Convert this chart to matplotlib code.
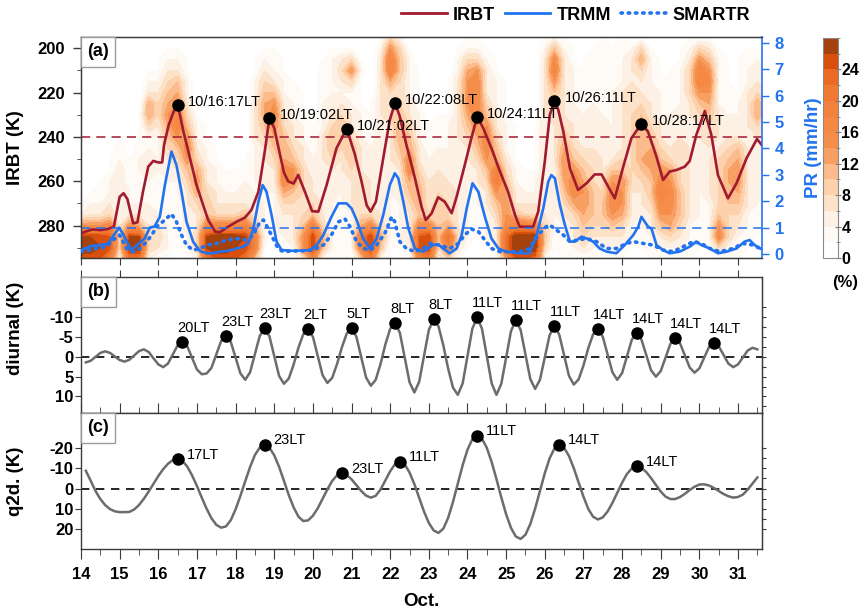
import numpy as np
import matplotlib
matplotlib.use("Agg")
import matplotlib.pyplot as plt
from matplotlib.lines import Line2D
from matplotlib.offsetbox import AnchoredText
from matplotlib.ticker import MultipleLocator

plt.rcParams['font.family'] = ['Liberation Sans', 'DejaVu Sans']
plt.rcParams['axes.unicode_minus'] = False

# ---------------- panel (a): area-mean IRBT (K) ----------------
irbt_day = [14.0, 14.15, 14.3, 14.5, 14.7, 14.85, 15.0, 15.1, 15.2, 15.35, 15.46, 15.6,
            15.74, 15.87, 16.0, 16.1, 16.15, 16.27, 16.4, 16.5, 16.56, 16.65, 16.82, 16.99,
            17.16, 17.29, 17.47, 17.59, 17.77, 18.03, 18.24, 18.41, 18.59, 18.76, 18.875,
            19.0, 19.1, 19.25, 19.36, 19.5, 19.62, 19.8, 19.98, 20.14, 20.355, 20.61, 20.875,
            21.09, 21.26, 21.39, 21.49, 21.63, 21.82, 21.99, 22.125, 22.25, 22.42, 22.64,
            22.81, 22.92, 23.07, 23.24, 23.41, 23.59, 23.72, 23.93, 24.1, 24.25, 24.41,
            24.62, 24.84, 25.05, 25.23, 25.35, 25.7, 25.83, 26.0, 26.13, 26.25, 26.35, 26.48,
            26.65, 26.86, 27.08, 27.29, 27.47, 27.64, 27.81, 28.03, 28.24, 28.5, 28.67,
            28.89, 29.06, 29.23, 29.41, 29.62, 29.75, 29.92, 30.14, 30.31, 30.48, 30.74,
            30.96, 31.22, 31.49, 31.65]
irbt_k = [283.5, 282.5, 281.7, 282.0, 281.5, 280.5, 267.0, 265.4, 268.0, 279.0, 278.5, 265.0,
          253.4, 250.8, 251.5, 251.5, 243.5, 234.5, 228.5, 225.7, 230.0, 237.6, 249.6, 261.7,
          270.7, 277.4, 282.7, 283.0, 280.9, 278.2, 276.4, 272.9, 264.7, 245.9, 231.3,
          236.0, 244.0, 256.0, 260.0, 261.0, 257.1, 265.0, 273.5, 273.7, 261.7, 245.1, 236.2,
          248.1, 260.2, 270.7, 273.7, 269.2, 249.6, 232.3, 224.7, 230.8, 243.6, 258.6,
          271.4, 277.5, 274.5, 267.2, 269.2, 274.4, 266.9, 252.6, 240.6, 230.8, 236.1,
          245.1, 255.6, 264.7, 275.2, 280.5, 280.5, 273.7, 251.1, 230.0, 223.8, 227.8, 237.6,
          254.1, 263.9, 260.9, 256.9, 256.9, 262.4, 267.7, 253.4, 240.6, 234.0, 237.6,
          248.9, 259.4, 255.6, 254.9, 253.4, 250.8, 239.1, 228.3, 239.1, 257.2, 267.7,
          260.9, 249.6, 240.9, 244.4]

# rain rate (mm/hr)
trmm_day = [14.0, 14.25, 14.5, 14.7, 14.85, 14.99, 15.1, 15.3, 15.45, 15.65, 15.78, 15.9,
            16.04, 16.17, 16.34, 16.47, 16.6, 16.73, 16.9, 17.08, 17.25, 17.42, 17.6, 17.8,
            18.03, 18.2, 18.33, 18.46, 18.59, 18.7, 18.8, 18.93, 19.06, 19.19, 19.5, 19.92,
            20.1, 20.27, 20.48, 20.66, 20.87, 21.0, 21.13, 21.3, 21.48, 21.65, 21.82, 21.99,
            22.12, 22.21, 22.34, 22.47, 22.64, 22.85, 22.98, 23.11, 23.24, 23.37, 23.54,
            23.72, 23.85, 23.98, 24.13, 24.28, 24.45, 24.62, 24.8, 25.0, 25.35, 25.6, 25.79,
            25.96, 26.09, 26.17, 26.26, 26.39, 26.52, 26.65, 26.78, 26.95, 27.08, 27.25,
            27.42, 27.6, 27.85, 28.07, 28.29, 28.42, 28.5, 28.67, 28.76, 28.89, 29.06, 29.23,
            29.49, 29.75, 29.92, 30.05, 30.27, 30.48, 30.7, 30.96, 31.17, 31.3, 31.43, 31.65]
trmm_pr = [0.15, 0.3, 0.34, 0.4, 0.72, 1.0, 0.72, 0.15, 0.34, 0.59, 1.0, 1.04,
           1.41, 2.61, 3.88, 3.37, 2.36, 1.22, 0.47, 0.11, 0.03, 0.03, 0.09, 0.12,
           0.21, 0.28, 0.4, 0.97, 1.98, 2.61, 2.36, 1.48, 0.47, 0.15, 0.12, 0.15,
           0.34, 0.72, 1.41, 1.92, 1.92, 1.73, 1.29, 0.59, 0.21, 0.59, 1.48, 2.61,
           3.06, 2.87, 1.98, 0.97, 0.21, 0.09, 0.21, 0.34, 0.37, 0.21, 0.03,
           0.21, 0.72, 1.73, 2.68, 2.36, 1.41, 0.59, 0.21, 0.09, 0.03, 0.03, 0.72,
           1.73, 2.74, 2.99, 2.87, 1.86, 1.1, 0.47, 0.47, 0.66, 0.59, 0.47,
           0.21, 0.09, 0.03, 0.34, 0.72, 1.04, 1.41, 1.04, 0.97, 0.34, 0.15, 0.03,
           0.09, 0.28, 0.47, 0.34, 0.21, 0.03, 0.09, 0.21, 0.47, 0.53, 0.34, 0.15]

smartr_day = [14.0, 14.4, 14.66, 14.83, 15.0, 15.18, 15.35, 15.52, 15.7, 15.83, 15.96, 16.17,
              16.34, 16.47, 16.6, 16.73, 16.9, 17.08, 17.25, 17.51, 17.77, 18.03, 18.29, 18.46,
              18.63, 18.72, 18.84, 18.97, 19.1, 19.23, 19.5, 19.665, 20.01, 20.27, 20.48,
              20.66, 20.83, 20.96, 21.13, 21.3, 21.48, 21.65, 21.86, 22.04, 22.12, 22.25,
              22.42, 22.64, 22.85, 23.03, 23.28, 23.54, 23.76, 23.93, 24.1, 24.28, 24.45,
              24.62, 24.84, 25.35, 25.6, 25.83, 26.04, 26.13, 26.3, 26.48, 26.65, 26.86,
              27.08, 27.34, 27.6, 27.85, 28.11, 28.29, 28.55, 28.8, 29.06, 29.32, 29.58,
              29.84, 30.05, 30.27, 30.53, 30.87, 31.13, 31.39, 31.65]
smartr_pr = [0.09, 0.21, 0.28, 0.53, 0.72, 0.21, 0.09, 0.21, 0.47, 0.72, 1.04, 1.29,
             1.52, 1.22, 0.72, 0.34, 0.15, 0.21, 0.34, 0.4, 0.53, 0.59, 0.53, 0.72,
             1.22, 1.29, 0.97, 0.59, 0.21, 0.09, 0.12, 0.11, 0.15, 0.34, 0.72,
             1.22, 1.33, 1.04, 0.47, 0.21, 0.15, 0.34, 0.78, 1.41, 1.22, 0.47,
             0.21, 0.09, 0.21, 0.4, 0.34, 0.21, 0.4, 0.72, 0.95, 0.85, 0.53,
             0.21, 0.09, 0.09, 0.21, 0.72, 1.04, 1.1, 0.91, 0.72, 0.47, 0.53,
             0.59, 0.47, 0.21, 0.21, 0.4, 0.47, 0.4, 0.34, 0.15, 0.09, 0.28,
             0.47, 0.4, 0.21, 0.09, 0.21, 0.4, 0.34, 0.15]

peak_day = [16.5, 18.875, 20.875, 22.125, 24.25, 26.25, 28.5]
peak_label = ["10/16:17LT", "10/19:02LT", "10/21:02LT", "10/22:08LT",
              "10/24:11LT", "10/26:11LT", "10/28:17LT"]

# IRBT frequency (%) per 5-K bin, one string per 6-h column, top (195 K) to bottom (295 K);
# each hex digit n stands for 2n %
pct_day_start = 14.0
pct_day_step = 0.25
pct_tb = list(range(195, 300, 5))
pct_cols = [
    "000000000000000127dec", "000000000000001237dec", "000000000000012237ddc", "000000000001122348cc9",
    "000000111122333323442", "000000000001112237dea", "000000011122222236dea", "001123664223322233442",
    "001123443222222223431", "012345676543322222221", "012356789754322111100", "001122345787543333221",
    "000000112234676433442", "000000001122334558dda", "000000000011223348eec", "000000000001122348eec",
    "000000000001122348edc", "000000000001223359dda", "001122333322222335995", "012345665433332222211",
    "012235787654332222110", "001122334566886433221", "001112223345775433321", "000001112233444445773",
    "000000001112233459dd8", "011222222333333334652", "012222334554333222221", "013432345543322222221",
    "014742233455433322221", "001211122233344446a94", "000000111122233348dd9", "123333333333333334652",
    "479964443333322222211", "245544456654333222211", "012222334568865433321", "000111122233456658cc8",
    "000000001112233348dda", "000001112223344555542", "000011112223334446b94", "012233333333333333431",
    "124677765433322222211", "124788887654332221110", "012333457887543322211", "0011222334569a7543321",
    "000011112223456778bb6", "000000001111223359eec", "000000000011122349eec", "000000001111122348eeb",
    "123333333333333334542", "258975443333222222111", "123333334567765432221", "011222233345788643321",
    "001112222334567765431", "012222233334445554321", "122222223333344554321", "011122222333578875321",
    "122223333334577764321", "023334444444443332211", "146433456666543322211", "012223334567655433221",
    "001112223345789875321", "011122223334678876421", "011222233344445554321", "123444333333333332221",
    "147997543333322222211", "135787654433333222211", "012222233334444457841", "001112223345666544421",
    "001111223356776543221", "012223333333333322211", "012334664333333222110", "011223443222222221110",
]
pct_levels = list(range(0, 30, 2))
pct_colors = ["#ffffff", "#fefaf5", "#fdf0e4", "#fde2ca", "#fcd1ac", "#fbbb8a", "#f8a064",
              "#f68e4b", "#f58843", "#f3823d", "#f07a33", "#ec6b24", "#d9500e", "#a5410c"]

# ---------------- panels (b), (c): 3-hourly series from 14.125 ----------------
series_start = 14.125
series_step = 0.125
diurnal_k = [1.4, 1.0, 0.0, -1.0, -1.4, -1.0, -0.1,
             0.8, 1.2, 0.75, -0.35, -1.45, -1.9, -1.25, 0.35,
             1.9, 2.6, 1.7, -0.6, -2.9, -3.85, -2.65, 0.3,
             3.2, 4.4, 4.2, 2.8, -0.6, -4.0, -5.4, -3.8,
             0.2, 4.2, 5.8, 3.9, -0.7, -5.3, -7.2, -5.2,
             -0.2, 4.8, 6.8, 5.5, 2.0, -2.3, -5.7, -7.05,
             -5.1, -0.2, 4.6, 6.6, 5.3, 1.8, -2.4, -5.9,
             -7.2, -5.1, 0.05, 5.2, 7.3, 5.8, 1.8, -3.15,
             -7.1, -8.65, -6.1, 0.2, 6.4, 9.0, 6.3, -0.25,
             -6.8, -9.5, -7.7, -2.9, 3.0, 7.8, 9.6, 6.7,
             -0.2, -7.1, -10.0, -7.1, -0.2, 6.7, 9.6, 6.8,
             0.15, -6.5, -9.3, -6.8, -0.6, 5.6, 8.1, 5.8,
             0.15, -5.5, -7.8, -5.6, -0.4, 4.8, 7.0, 5.7,
             2.2, -2.2, -5.7, -7.0, -5.1, -0.6, 3.9, 5.8,
             4.1, -0.1, -4.3, -6.0, -4.4, -0.5, 3.4, 5.0,
             3.6, 0.15, -3.3, -4.7, -3.4, -0.35, 2.7, 4.0,
             2.9, 0.2, -2.5, -3.6, -2.7, -0.5, 1.7, 2.6,
             1.9, 0.15, -1.6, -2.3, -1.9]
diurnal_peak_day = [16.625, 17.75, 18.75, 19.875, 21.0, 22.125, 23.125,
                    24.25, 25.25, 26.25, 27.375, 28.375, 29.375, 30.375]
diurnal_peak_label = ["20LT", "23LT", "23LT", "2LT", "5LT", "8LT", "8LT",
                      "11LT", "11LT", "11LT", "14LT", "14LT", "14LT", "14LT"]

q2d_k = [-8.8, -3.9, 1.2, 5.2, 8.2, 10.2, 11.3,
         11.7, 11.7, 11.6, 10.4, 8.2, 5.1, 1.5, -2.4,
         -6.2, -9.6, -12.3, -14.1, -14.65, -13.7, -10.9, -6.5,
         -1.3, 4.5, 10.0, 14.7, 18.0, 19.4, 18.8, 15.7,
         10.3, 3.6, -3.7, -10.7, -16.7, -20.3, -21.65, -20.3,
         -16.5, -10.8, -3.9, 3.2, 9.3, 13.9, 16.1, 15.8,
         13.5, 9.8, 5.1, 0.4, -3.8, -6.6, -7.5, -6.7,
         -4.6, -1.7, 1.2, 3.5, 4.5, 3.6, 0.5, -4.0,
         -8.6, -12.1, -13.3, -12.0, -8.0, -2.2, 4.6, 11.4,
         17.1, 20.8, 22.0, 19.9, 14.5, 6.6, -2.5, -11.6,
         -19.3, -24.5, -26.3, -24.7, -20.2, -13.2, -4.7, 4.4,
         12.8, 19.5, 23.8, 25.0, 22.9, 17.6, 10.0, 1.2,
         -7.6, -15.0, -19.9, -21.65, -20.2, -16.2, -10.1, -3.0,
         4.0, 10.1, 14.0, 15.35, 14.3, 11.4, 7.1, 2.1,
         -2.9, -7.2, -10.0, -11.0, -10.3, -8.2, -5.2, -1.8,
         1.5, 4.0, 5.2, 5.2, 4.2, 2.6, 0.7, -0.9,
         -2.0, -2.1, -1.5, -0.3, 1.2, 2.7, 3.8, 4.5,
         4.2, 3.0, 0.5, -2.5, -5.5]
q2d_peak_day = [16.5, 18.75, 20.75, 22.25, 24.25, 26.375, 28.375]
q2d_peak_label = ["17LT", "23LT", "23LT", "11LT", "11LT", "14LT", "14LT"]

day_ticks = list(range(14, 32))

# ---------------- styling ----------------
RED = "#a01a30"
BLUE = "#2273f0"
GRAY = "#6c6c6c"
FRAME = "#3a3a3a"
TICK_FS = 12
LABEL_FS = 13.5

W, H = 863, 609
fig = plt.figure(figsize=(W / 100, H / 100), dpi=100)


def px_box(left, top, right, bottom):
    return [left / W, 1 - bottom / H, (right - left) / W, (bottom - top) / H]


ax_a = fig.add_axes(px_box(81, 37, 762, 258))
ax_b = fig.add_axes(px_box(81, 277, 762, 413))
ax_c = fig.add_axes(px_box(81, 413, 762, 549))
cax = fig.add_axes(px_box(823, 38, 838, 258))

XMIN, XMAX = 14.0, 31.62


def panel_tag(ax, text):
    tag = AnchoredText(text, loc="upper left", borderpad=0.0, pad=0.35, frameon=True,
                       prop=dict(size=13, fontweight="bold"))
    tag.patch.set_edgecolor("#9a9a9a")
    tag.patch.set_linewidth(1.0)
    tag.patch.set_boxstyle("square,pad=0")
    tag.zorder = 20
    ax.add_artist(tag)


for ax in (ax_a, ax_b, ax_c):
    for sp in ax.spines.values():
        sp.set_color(FRAME)
        sp.set_linewidth(1.0)
    ax.set_xlim(XMIN, XMAX)

# ---- (a) ----
pct_days = pct_day_start + pct_day_step * np.arange(len(pct_cols))
pct = np.array([[int(ch, 16) * 2.0 for ch in col[:len(pct_tb)].ljust(len(pct_tb), "0")]
                for col in pct_cols]).T
pct = np.clip(pct, 0, 27.9)
cf = ax_a.contourf(pct_days, pct_tb, pct, levels=pct_levels, colors=pct_colors, zorder=1)
ax_a.axhline(240, color=RED, lw=1.1, ls=(0, (6, 4)), zorder=2)
ax_a.plot(irbt_day, irbt_k, color=RED, lw=1.9, zorder=3)
peak_k = np.interp(peak_day, irbt_day, irbt_k)
ax_a.plot(peak_day, peak_k, "o", color="black", ms=8, zorder=4)
for d, v, s in zip(peak_day, peak_k, peak_label):
    ax_a.annotate(s, (d, v), xytext=(10, 3), textcoords="offset pixels",
                  ha="left", va="center", fontsize=10.5, zorder=5)
ax_a.set_ylim(294.6, 194.9)
ax_a.set_yticks([200, 220, 240, 260, 280], labels=["200", "220", "240", "260", "280"],
                fontsize=TICK_FS, fontweight="bold")
ax_a.yaxis.set_minor_locator(MultipleLocator(10))
ax_a.tick_params(axis="y", which="major", direction="out", length=5.5, width=1, pad=6,
                 right=False, colors=FRAME, labelcolor="black")
ax_a.tick_params(axis="y", which="minor", direction="out", length=3, right=False, colors=FRAME)
ax_a.set_xticks(day_ticks)
ax_a.tick_params(axis="x", which="major", direction="out", length=5, top=False,
                 labelbottom=False, colors=FRAME)
ax_a.spines["right"].set_visible(False)
ax_a.set_ylabel("IRBT (K)", fontsize=LABEL_FS, fontweight="bold")
ax_a.yaxis.set_label_coords(-0.084, 0.5)

ax_r = ax_a.twinx()
ax_r.set_xlim(XMIN, XMAX)
ax_r.axhline(1.0, color=BLUE, lw=1.1, ls=(0, (6, 4)), zorder=2)
ax_r.plot(trmm_day, trmm_pr, color=BLUE, lw=1.9, zorder=3)
ax_r.plot(smartr_day, smartr_pr, color=BLUE, lw=2.6, ls=(0, (0.4, 1.6)),
          dash_capstyle="round", zorder=3)
ax_r.set_ylim(-0.15, 8.22)
ax_r.set_yticks(range(0, 9), labels=[str(i) for i in range(0, 9)],
                fontsize=TICK_FS, fontweight="bold")
ax_r.tick_params(axis="y", direction="out", length=5, width=1, pad=4, colors=BLUE)
ax_r.spines["right"].set_color(BLUE)
ax_r.spines["right"].set_linewidth(1.2)
for side in ("left", "top", "bottom"):
    ax_r.spines[side].set_color(FRAME)
ax_r.set_ylabel("PR (mm/hr)", fontsize=LABEL_FS, fontweight="bold", color=BLUE)
ax_r.yaxis.set_label_coords(1.063, 0.5)
panel_tag(ax_r, "(a)")

# ---- (b) ----
t_series = series_start + series_step * np.arange(len(diurnal_k))
ax_b.axhline(0, color="black", lw=1.2, ls=(0, (5, 4)), zorder=2)
ax_b.plot(t_series, diurnal_k, color=GRAY, lw=1.8, zorder=3)
dk = np.interp(diurnal_peak_day, t_series, diurnal_k)
ax_b.plot(diurnal_peak_day, dk, "o", color="black", ms=8, zorder=4)
for d, v, s in zip(diurnal_peak_day, dk, diurnal_peak_label):
    ax_b.annotate(s, (d, v), xytext=(-5, 14), textcoords="offset pixels",
                  ha="left", va="center", fontsize=10.5, zorder=5)
ax_b.set_ylim(14.2, -20.2)
ax_b.set_yticks([-10, -5, 0, 5, 10], labels=["-10", "-5", "0", "5", "10"],
                fontsize=TICK_FS, fontweight="bold")
ax_b.tick_params(axis="y", direction="out", length=4, pad=1.5, right=False, colors=FRAME,
                 labelcolor="black")
sec_b = ax_b.secondary_yaxis("right")
sec_b.set_yticks(np.arange(-12.5, 13, 2.5))
sec_b.tick_params(direction="out", length=3, labelright=False, colors=FRAME)
sec_b.spines["right"].set_color(FRAME)
ax_b.set_xticks(day_ticks)
ax_b.xaxis.set_minor_locator(MultipleLocator(0.5))
ax_b.tick_params(axis="x", which="both", direction="out", top=True, bottom=True,
                 labelbottom=False, colors=FRAME)
ax_b.tick_params(axis="x", which="major", length=5)
ax_b.tick_params(axis="x", which="minor", length=3, top=False)
ax_b.set_ylabel("diurnal (K)", fontsize=LABEL_FS, fontweight="bold")
ax_b.yaxis.set_label_coords(-0.084, 0.62)
panel_tag(ax_b, "(b)")

# ---- (c) ----
ax_c.axhline(0, color="black", lw=1.2, ls=(0, (5, 4)), zorder=2)
ax_c.plot(t_series, q2d_k, color=GRAY, lw=1.8, zorder=3)
qk = np.interp(q2d_peak_day, t_series, q2d_k)
ax_c.plot(q2d_peak_day, qk, "o", color="black", ms=8, zorder=4)
for d, v, s in zip(q2d_peak_day, qk, q2d_peak_label):
    ax_c.annotate(s, (d, v), xytext=(9, 4.5), textcoords="offset pixels",
                  ha="left", va="center", fontsize=10.5, zorder=5)
ax_c.set_ylim(30, -37.5)
ax_c.set_yticks([-20, -10, 0, 10, 20], labels=["-20", "-10", "0", "10", "20"],
                fontsize=TICK_FS, fontweight="bold")
ax_c.tick_params(axis="y", direction="out", length=4, pad=1.5, right=False, colors=FRAME,
                 labelcolor="black")
sec_c = ax_c.secondary_yaxis("right")
sec_c.set_yticks(np.arange(-20, 21, 5))
sec_c.tick_params(direction="out", length=3, labelright=False, colors=FRAME)
sec_c.spines["right"].set_color(FRAME)
ax_c.set_xticks(day_ticks, labels=[str(d) for d in day_ticks],
                fontsize=TICK_FS, fontweight="bold")
ax_c.xaxis.set_minor_locator(MultipleLocator(0.5))
ax_c.tick_params(axis="x", which="both", direction="out", top=True, bottom=True,
                 colors=FRAME, labelcolor="black")
ax_c.tick_params(axis="x", which="major", length=7, pad=6)
ax_c.tick_params(axis="x", which="minor", length=4)
ax_c.set_ylabel("q2d. (K)", fontsize=LABEL_FS, fontweight="bold")
ax_c.yaxis.set_label_coords(-0.084, 0.5)
ax_c.set_xlabel("Oct.", fontsize=LABEL_FS, fontweight="bold")
ax_c.xaxis.set_label_coords(0.5, -0.32)
panel_tag(ax_c, "(c)")

# ---- colour bar ----
cb = fig.colorbar(cf, cax=cax)
cb.set_ticks([0, 4, 8, 12, 16, 20, 24])
cb.ax.set_yticklabels(["0", "4", "8", "12", "16", "20", "24"],
                      fontsize=11.5, fontweight="bold")
cb.ax.yaxis.set_minor_locator(MultipleLocator(2))
cb.ax.tick_params(which="major", direction="inout", length=4, pad=0.5,
                  colors="#777777", labelcolor="black")
cb.ax.tick_params(which="minor", direction="inout", length=3, colors="#777777")
cb.outline.set_edgecolor("#8a8a8a")
cb.outline.set_linewidth(0.8)
fig.text(845 / W, 1 - 282 / H, "(%)", ha="center", va="center",
         fontsize=TICK_FS, fontweight="bold")

# ---- legend ----
handles = [Line2D([], [], color=RED, lw=2.0),
           Line2D([], [], color=BLUE, lw=2.0),
           Line2D([], [], color=BLUE, lw=2.6, ls=(0, (0.4, 1.6)), dash_capstyle="round")]
fig.legend(handles, ["IRBT", "TRMM", "SMARTR"], ncol=3, loc="center right",
           bbox_to_anchor=(750 / W, 1 - 15 / H), frameon=False,
           prop=dict(size=13, weight="bold"), handlelength=2.5, handletextpad=0.35,
           columnspacing=0.55, borderaxespad=0.0, borderpad=0.0)

fig.savefig("out.png", dpi=100)
